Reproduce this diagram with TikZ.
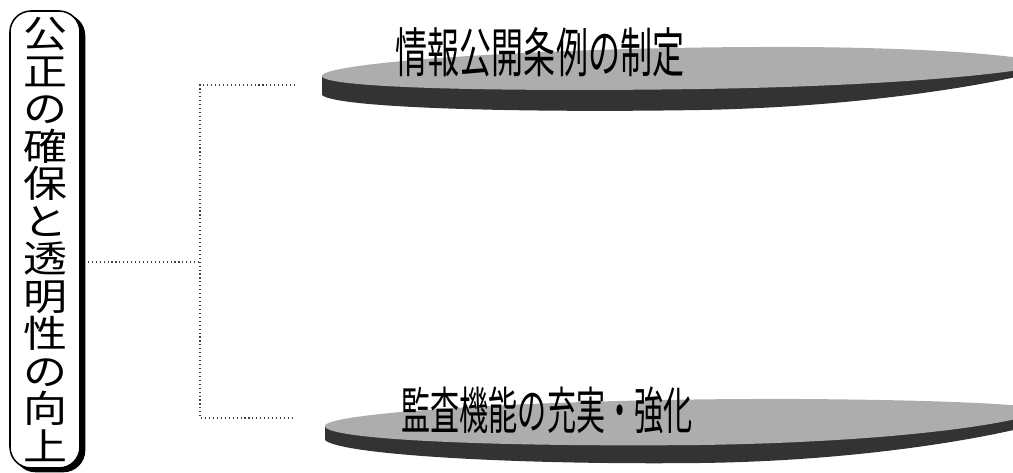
\documentclass[tikz,border=0pt]{standalone}
\usepackage{fontspec}
\usepackage{graphicx}
\newfontfamily\cjk{Noto Sans CJK JP}
\newcommand\vcx[1]{\scalebox{1.18}[1]{#1}}
\tikzset{
  box/.style={draw=black, line width=1.1pt, rounded corners=15pt, fill=white,
    align=center, inner sep=0pt, minimum width=49.8pt, minimum height=325pt,
    font=\cjk\fontsize{26.5}{26.7}\selectfont,
    preaction={fill=black, draw=black, line width=1.1pt, transform canvas={xshift=3.2pt,yshift=-2.5pt}}},
  conn/.style={dotted, line width=0.8pt, black!75},
  disktop/.style={fill=black!32},
  diskside/.style={fill=black!80},
  lbl/.style={inner sep=0pt}
}
\begin{document}
\begin{tikzpicture}[x=0.025cm, y=-0.025cm]
\useasboundingbox (0,0) rectangle (1013,473);
\begin{scope}
\clip (0,0) rectangle (1013,473);
% top disk
\fill[diskside] (322,76) -- (322,95) .. controls (335,108) and (520,113) .. (700,110)
  .. controls (860,107) and (990,85) .. (1045,70) -- (1045,60) -- cycle;
\fill[disktop] (322,76) .. controls (322,62) and (560,46) .. (800,47)
  .. controls (940,48) and (1030,56) .. (1045,64)
  .. controls (1030,72) and (900,86) .. (700,89)
  .. controls (500,92) and (322,88) .. (322,76) -- cycle;
% bottom disk
\fill[diskside] (325,426) -- (325,440) .. controls (340,455) and (520,465) .. (700,463)
  .. controls (860,461) and (990,438) .. (1045,422) -- (1045,405) -- cycle;
\fill[disktop] (325,426) .. controls (325,412) and (560,398) .. (800,399)
  .. controls (940,400) and (1030,404) .. (1045,410)
  .. controls (1020,423) and (900,442) .. (700,445)
  .. controls (500,447) and (325,440) .. (325,426) -- cycle;
\end{scope}
\node[lbl, font=\cjk\fontsize{38}{38}\selectfont] (t1) at (540,52) {\scalebox{0.6}[1]{情報公開条例の制定}};
\node[lbl, font=\cjk\fontsize{36}{36}\selectfont] (t2) at (547,410) {\scalebox{0.575}[1]{監査機能の充実・強化}};
\node[box] (L) at (45,239.5) {\vcx{公}\\\vcx{正}\\\vcx{の}\\\vcx{確}\\\vcx{保}\\\vcx{と}\\\vcx{透}\\\vcx{明}\\\vcx{性}\\\vcx{の}\\\vcx{向}\\\vcx{上}};
\coordinate (j) at (200,262);
\coordinate (c1) at (295,85);
\coordinate (c2) at (295,418);
\draw[conn] ([xshift=5pt]L.east |- j) -- (j);
\draw[conn] (c1) -| (j) |- (c2);
\end{tikzpicture}
\end{document}
